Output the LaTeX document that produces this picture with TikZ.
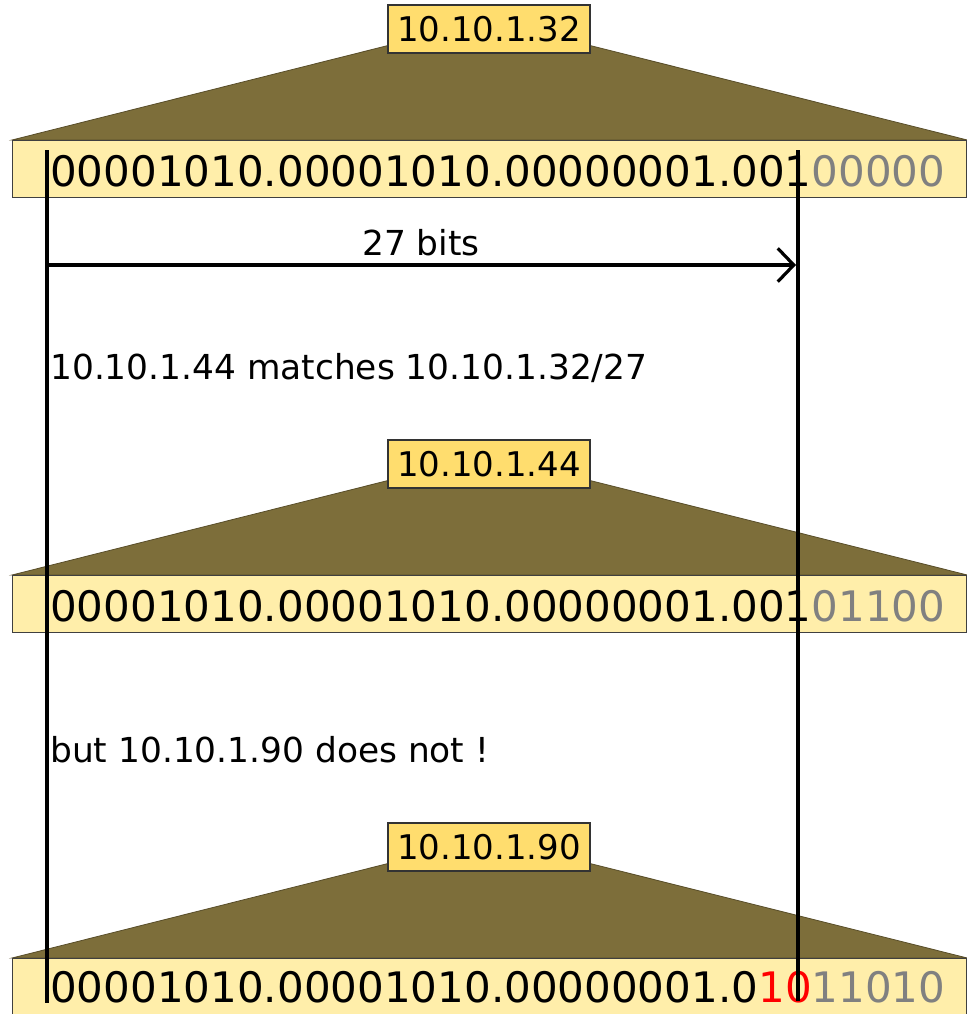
\documentclass[tikz,border=0pt]{standalone}
\usepackage{fontspec}
\setmainfont{DejaVu Sans}
\usetikzlibrary{arrows.meta,backgrounds}
\definecolor{boxfill}{RGB}{255,238,170}
\definecolor{labfill}{RGB}{255,221,110}
\definecolor{wedge}{RGB}{125,110,58}
\definecolor{bitgray}{RGB}{128,128,128}
\tikzset{
  addrbox/.style={draw=black!75,line width=1pt,fill=boxfill,anchor=north west,minimum width=954*0.75pt,minimum height=57*0.75pt,inner sep=0pt},
  labbox/.style={draw=black!80,line width=1pt,fill=labfill,minimum width=202*0.75pt,minimum height=48*0.75pt,inner sep=0pt,font=\fontsize{25.5}{30}\selectfont},
  bits/.style={anchor=base west,inner sep=0pt,font=\fontsize{31.5}{36}\selectfont},
  caption/.style={anchor=base west,inner sep=0pt,font=\fontsize{25.8}{30}\selectfont},
  vline/.style={draw=black,line width=2.4pt},
  wedgefill/.style={fill=wedge,draw=wedge!70!black,line width=0.6pt}
}
\begin{document}
\begin{tikzpicture}[x=0.75pt,y=-0.75pt]
\useasboundingbox (0,0) rectangle (967,1014);
% address boxes
\node[addrbox] (b1) at (12,140) {};
\node[addrbox] (b2) at (12,575) {};
\node[addrbox] (b3) at (12,958) {};
% label boxes
\node[labbox] (l1) at (489,29) {10.10.1.32};
\node[labbox] (l2) at (489,464) {10.10.1.44};
\node[labbox] (l3) at (489,847) {10.10.1.90};
% wedges behind
\begin{scope}[on background layer]
\fill[wedgefill] (b1.north west) -- ([yshift=6pt]l1.south west) -- ([yshift=6pt]l1.south east) -- (b1.north east) -- cycle;
\fill[wedgefill] (b2.north west) -- ([yshift=6pt]l2.south west) -- ([yshift=6pt]l2.south east) -- (b2.north east) -- cycle;
\fill[wedgefill] (b3.north west) -- ([yshift=6pt]l3.south west) -- ([yshift=6pt]l3.south east) -- (b3.north east) -- cycle;
\end{scope}
% bit strings
\node[bits] (t1) at (50,186) {00001010.00001010.00000001.001\textcolor{bitgray}{00000}};
\node[bits] (t2) at (50,621) {00001010.00001010.00000001.001\textcolor{bitgray}{01100}};
\node[bits] (t3) at (50,1002) {00001010.00001010.00000001.0\textcolor{red}{10}\textcolor{bitgray}{11010}};
% captions
\node[caption] (c1) at (50,379) {10.10.1.44 matches 10.10.1.32/27};
\node[caption] (c2) at (50,762) {but 10.10.1.90 does not !};
% vertical lines
\coordinate (lt) at (47,150);
\coordinate (lb) at (47,1003);
\coordinate (rt) at (798,150);
\coordinate (rb) at (798,1001);
\draw[vline] (lt) -- (lb);
\draw[vline] (rt) -- (rb);
% arrow
\coordinate (as) at (47,265);
\coordinate (ae) at (796,265);
\draw[vline,-{Straight Barb[length=12pt,width=25pt,line width=2.4pt]}] (as) -- (ae);
\node[caption] (n27) at (362,255) {27 bits};
\end{tikzpicture}
\end{document}
